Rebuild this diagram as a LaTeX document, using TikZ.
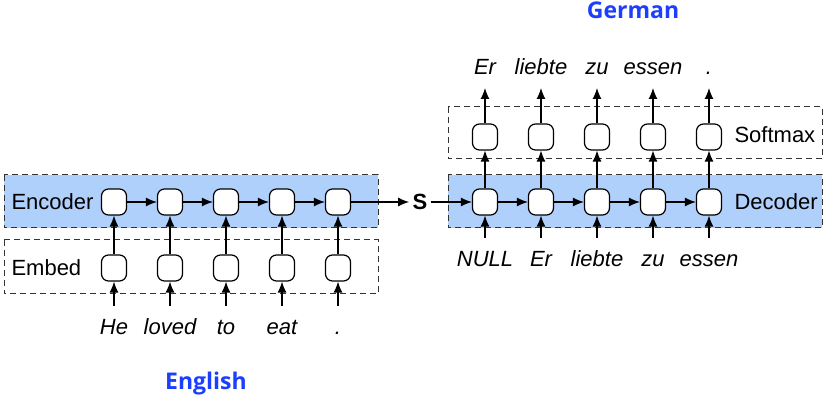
\documentclass[tikz,border=0pt]{standalone}
\usepackage{fontspec}
\setmainfont{Liberation Sans}
\newfontfamily\langfont{Open Sans}
\usetikzlibrary{arrows.meta}
\definecolor{band}{RGB}{176,208,252}
\definecolor{langblue}{RGB}{28,62,255}
\tikzstyle{cell}=[draw, fill=white, rounded corners=7pt, minimum width=25pt, minimum height=26pt, inner sep=0pt, line width=1.2pt]
\tikzstyle{layer}=[draw, line width=1pt, draw=black!80, dash pattern=on 6pt off 4pt]
\tikzstyle{arr}=[-{Latex[length=11pt,width=9pt]}, line width=1.2pt]
\tikzstyle{word}=[font=\fontsize{22}{26}\selectfont\itshape, anchor=base]
\tikzstyle{lab}=[font=\fontsize{22}{26}\selectfont, anchor=base west]
\tikzstyle{lang}=[font=\langfont\bfseries\fontsize{23}{27}\selectfont, text=langblue]

\begin{document}
\begin{tikzpicture}[x=1pt,y=-1pt]
\useasboundingbox (0,0) rectangle (831,411);
% encoder side
\draw[layer,fill=band] (4,175) rectangle (378,228);
\draw[layer] (4,240) rectangle (378,294);
\node[lab] (enc) at (8,210) {Encoder};
\node[lab] (emb) at (8,276) {Embed};
\foreach \i/\w in {1/He,2/loved,3/to,4/eat,5/.} {
	\node[cell] (e\i) at (58+56*\i,202) {};
	\node[cell] (m\i) at (58+56*\i,268) {};
	\coordinate (in\i) at (58+56*\i,306);
	\node[word] (w\i) at (58+56*\i,335) {\w};
	\draw[arr] (in\i) -- (m\i);
	\draw[arr] (m\i) -- (e\i);
}
\foreach \i/\j in {1/2,2/3,3/4,4/5} {
	\draw[arr] (e\i) -- (e\j);
}
\node[font=\bfseries\fontsize{22}{26}\selectfont] (s) at (420,202) {S};
\draw[arr] (e5) -- (s);
% decoder side
\draw[layer,fill=band] (448,175) rectangle (822,228);
\draw[layer] (448,107) rectangle (822,159);
\node[lab] (dec) at (731,210) {Decoder};
\node[lab] (soft) at (731,143) {Softmax};
\foreach \i/\u/\v in {1/NULL/Er,2/Er/liebte,3/liebte/zu,4/zu/essen,5/essen/.} {
	\node[cell] (d\i) at (429+56*\i,202) {};
	\node[cell] (o\i) at (429+56*\i,137) {};
	\coordinate (din\i) at (429+56*\i,238);
	\coordinate (dout\i) at (429+56*\i,88);
	\node[word] (u\i) at (429+56*\i,267) {\u};
	\node[word] (v\i) at (429+56*\i,75) {\v};
	\draw[arr] (din\i) -- (d\i);
	\draw[arr] (d\i) -- (o\i);
	\draw[arr] (o\i) -- (dout\i);
}
\foreach \i/\j in {1/2,2/3,3/4,4/5} {
	\draw[arr] (d\i) -- (d\j);
}
\draw[arr] (s) -- (d1);
% languages
\node[lang] (german) at (633,10) {German};
\node[lang] (english) at (206,384) {English};
\end{tikzpicture}
\end{document}
